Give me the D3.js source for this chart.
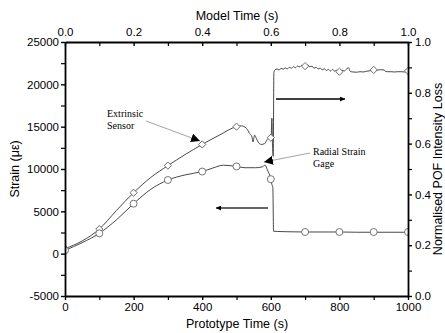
<!DOCTYPE html>
<html>
<head>
<meta charset="utf-8">
<script src="https://cdn.jsdelivr.net/npm/d3@7"></script>
<style>
  html, body { margin: 0; padding: 0; background: #fff; }
  svg { display: block; }
</style>
</head>
<body>
<svg id="chart"></svg>
<script>
// Extrinsic sensor (diamonds): strain part, then POF intensity loss part
const extTime = [0, 50, 100, 150, 200, 250, 300, 350, 400, 450, 500, 514, 529, 538, 545, 548, 553, 558, 563, 572, 582, 590, 596, 600, 602, 603, 605, 607];
const extStrain = [600, 1500, 2900, 5100, 7200, 9000, 10400, 11700, 12900, 14000, 15000, 15100, 14800, 14200, 13800, 13200, 14000, 13600, 13200, 12900, 13000, 13500, 13700, 13700, 14500, 16000, 12800, 11500];
const extLossTime = [609, 612, 618, 624, 630, 636, 642, 648, 654, 660, 666, 672, 678, 684, 690, 700, 708, 714, 720, 726, 732, 738, 744, 750, 756, 762, 768, 774, 780, 786, 792, 800, 808, 814, 820, 826, 832, 840, 850, 860, 870, 880, 890, 900, 910, 920, 930, 935, 940, 950, 960, 970, 980, 990, 1000];
const extLoss = [0.880, 0.890, 0.894, 0.890, 0.896, 0.893, 0.898, 0.894, 0.900, 0.897, 0.903, 0.899, 0.905, 0.902, 0.908, 0.905, 0.910, 0.902, 0.905, 0.897, 0.900, 0.894, 0.897, 0.890, 0.895, 0.888, 0.892, 0.886, 0.892, 0.885, 0.889, 0.883, 0.889, 0.886, 0.892, 0.899, 0.884, 0.882, 0.881, 0.883, 0.882, 0.885, 0.887, 0.890, 0.889, 0.891, 0.890, 0.884, 0.883, 0.883, 0.882, 0.883, 0.883, 0.882, 0.883];

// Radial strain gage (circles)
const radTime = [0, 50, 100, 150, 200, 250, 300, 350, 400, 430, 462, 500, 525, 555, 575, 583, 590, 600, 603, 606];
const radStrain = [400, 1300, 2400, 4000, 5900, 7600, 8700, 9300, 9700, 10100, 10450, 10300, 10150, 10150, 10250, 10450, 9900, 8800, 8200, 7800];
const radLossTime = [608, 620, 650, 700, 750, 800, 850, 900, 950, 1000];
const radLoss = [0.255, 0.254, 0.253, 0.252, 0.252, 0.252, 0.251, 0.251, 0.251, 0.251];

// markers
const markTime = [0, 100, 200, 300, 400, 500, 600];
const markLossTime = [700, 800, 900, 1000];
const extMarkStrain = [600, 2900, 7200, 10400, 12900, 15000, 13700];
const extMarkLoss = [0.905, 0.883, 0.890, 0.886];
const radMarkStrain = [400, 2400, 5900, 8700, 9700, 10300, 8800];
const radMarkLoss = [0.252, 0.252, 0.252, 0.252];

// ticks
const strainTicks = [-5000, 0, 5000, 10000, 15000, 20000, 25000];
const timeTicks = [0, 200, 400, 600, 800, 1000];
const modelTicks = [0, 0.2, 0.4, 0.6, 0.8, 1.0];
const lossTicks = [0, 0.2, 0.4, 0.6, 0.8, 1.0];

const width = 445, height = 333;
const margin = { left: 65, right: 37, top: 42, bottom: 37 };

const svg = d3.select("#chart").attr("width", width).attr("height", height);

const x = d3.scaleLinear([0, 1000], [margin.left, width - margin.right]);
const xTop = d3.scaleLinear([0, 1], [margin.left, width - margin.right]);
const yL = d3.scaleLinear([-5000, 25000], [height - margin.bottom, margin.top]);
const yR = d3.scaleLinear([0, 1], [height - margin.bottom, margin.top]);

svg.append("clipPath").attr("id", "clip")
	.append("rect")
	.attr("x", margin.left).attr("y", margin.top)
	.attr("width", x(1000) - x(0)).attr("height", yL(-5000) - yL(25000));

// make lines
const line = d3.line().curve(d3.curveMonotoneX);

function series(time, strain, lossTime, loss) {
	const a = time.map((t, i) => [x(t), yL(strain[i])]);
	const b = lossTime.map((t, i) => [x(t), yR(loss[i])]);
	return a.concat(b);
}

const plot = svg.append("g").attr("clip-path", "url(#clip)");

plot.append("path")
	.attr("d", line(series(extTime, extStrain, extLossTime, extLoss)))
	.attr("fill", "none").attr("stroke", "#333").attr("stroke-width", 0.9);

plot.append("path")
	.attr("d", line(series(radTime, radStrain, radLossTime, radLoss)))
	.attr("fill", "none").attr("stroke", "#333").attr("stroke-width", 0.9);

// markers
const diamond = d3.symbol(d3.symbolSquare, 26);
const extPts = series(markTime, extMarkStrain, markLossTime, extMarkLoss);
const radPts = series(markTime, radMarkStrain, markLossTime, radMarkLoss);

plot.append("g").selectAll("path")
	.data(extPts).join("path")
	.attr("d", diamond)
	.attr("transform", d => `translate(${d[0]},${d[1]}) rotate(45)`)
	.attr("fill", "#fff").attr("stroke", "#666").attr("stroke-width", 0.9);

plot.append("g").selectAll("circle")
	.data(radPts).join("circle")
	.attr("cx", d => d[0]).attr("cy", d => d[1]).attr("r", 3.5)
	.attr("fill", "#fff").attr("stroke", "#666").attr("stroke-width", 0.9);

// axes
const font = "'Liberation Sans', Arial, sans-serif";

function styleAxis(g) {
	g.select(".domain").attr("stroke", "#000").attr("stroke-width", 1.8);
	g.selectAll(".tick line").attr("stroke", "#000").attr("stroke-width", 1.4);
	g.selectAll(".tick text").attr("font-family", font).attr("font-size", 11.5).attr("fill", "#000");
}

function minor(g) {
	g.select(".domain").remove();
	g.selectAll(".tick line").attr("stroke", "#000").attr("stroke-width", 1.2);
}

const plain = d => String(d);

// left
svg.append("g").attr("transform", `translate(${margin.left},0)`)
	.call(d3.axisLeft(yL).tickValues(d3.range(-2500, 25000, 5000)).tickSize(4).tickFormat(""))
	.call(minor);
svg.append("g").attr("transform", `translate(${margin.left},0)`)
	.call(d3.axisLeft(yL).tickValues(strainTicks).tickSize(4).tickSizeOuter(0).tickPadding(2).tickFormat(plain))
	.call(styleAxis);

// bottom
svg.append("g").attr("transform", `translate(0,${height - margin.bottom})`)
	.call(d3.axisBottom(x).tickValues(d3.range(100, 1000, 200)).tickSize(4).tickFormat(""))
	.call(minor);
svg.append("g").attr("transform", `translate(0,${height - margin.bottom})`)
	.call(d3.axisBottom(x).tickValues(timeTicks).tickSize(4).tickSizeOuter(0).tickPadding(3).tickFormat(plain))
	.call(styleAxis);

// top (ticks point inward)
svg.append("g").attr("transform", `translate(0,${margin.top})`)
	.call(d3.axisTop(xTop).tickValues(d3.range(0.1, 1, 0.2)).tickSize(-4).tickFormat(""))
	.call(minor);
svg.append("g").attr("transform", `translate(0,${margin.top})`)
	.call(d3.axisTop(xTop).tickValues(modelTicks).tickSize(-4).tickSizeOuter(0).tickPadding(6).tickFormat(d3.format(".1f")))
	.call(styleAxis);

// right
svg.append("g").attr("transform", `translate(${width - margin.right},0)`)
	.call(d3.axisRight(yR).tickValues(d3.range(0.1, 1, 0.2)).tickSize(4).tickFormat(""))
	.call(minor);
svg.append("g").attr("transform", `translate(${width - margin.right},0)`)
	.call(d3.axisRight(yR).tickValues(lossTicks).tickSize(4).tickSizeOuter(0).tickPadding(3).tickFormat(d3.format(".1f")))
	.call(styleAxis);

// axis titles
svg.append("text").attr("x", 237).attr("y", 20).attr("text-anchor", "middle")
	.attr("font-family", font).attr("font-size", 12.5).text("Model Time (s)");
svg.append("text").attr("x", 237).attr("y", 328).attr("text-anchor", "middle")
	.attr("font-family", font).attr("font-size", 12.5).text("Prototype Time (s)");
svg.append("text").attr("transform", "translate(19,169) rotate(-90)").attr("text-anchor", "middle")
	.attr("font-family", font).attr("font-size", 12.5).text("Strain (με)");
svg.append("text").attr("transform", "translate(442,169) rotate(-90)").attr("text-anchor", "middle")
	.attr("font-family", font).attr("font-size", 12.5).text("Normalised POF Intensity Loss");

// annotations
const serif = "'Liberation Serif', 'Times New Roman', serif";
const notes = [
	{ text: "Extrinsic", x: 107, y: 117 },
	{ text: "Sensor", x: 107, y: 129 },
	{ text: "Radial Strain", x: 313, y: 155 },
	{ text: "Gage", x: 313, y: 167 }
];
svg.append("g").selectAll("text").data(notes).join("text")
	.attr("x", d => d.x).attr("y", d => d.y)
	.attr("font-family", serif).attr("font-size", 10).text(d => d.text);

svg.append("defs").append("marker")
	.attr("id", "head").attr("viewBox", "0 0 10 10")
	.attr("refX", 10).attr("refY", 5)
	.attr("markerWidth", 9).attr("markerHeight", 9).attr("markerUnits", "userSpaceOnUse")
	.attr("orient", "auto")
	.append("path").attr("d", "M0,0L10,5L0,10Z").attr("fill", "#000");

svg.append("defs").append("marker")
	.attr("id", "head2").attr("viewBox", "0 0 10 10")
	.attr("refX", 10).attr("refY", 5)
	.attr("markerWidth", 8).attr("markerHeight", 5).attr("markerUnits", "userSpaceOnUse")
	.attr("orient", "auto")
	.append("path").attr("d", "M0,0L10,5L0,10Z").attr("fill", "#000");

const pointers = [
	{ x1: 146, y1: 121, x2: 200, y2: 141, w: 0.6, c: "#666", m: "head" },
	{ x1: 310, y1: 153, x2: 264, y2: 162, w: 0.6, c: "#666", m: "head" },
	{ x1: 276, y1: 99, x2: 345, y2: 99, w: 1.3, c: "#000", m: "head2" },
	{ x1: 268, y1: 208, x2: 216, y2: 208, w: 1.3, c: "#333", m: "head2" }
];
svg.append("g").selectAll("line").data(pointers).join("line")
	.attr("x1", d => d.x1).attr("y1", d => d.y1)
	.attr("x2", d => d.x2).attr("y2", d => d.y2)
	.attr("stroke", d => d.c).attr("stroke-width", d => d.w)
	.attr("marker-end", d => `url(#${d.m})`);
</script>
</body>
</html>
